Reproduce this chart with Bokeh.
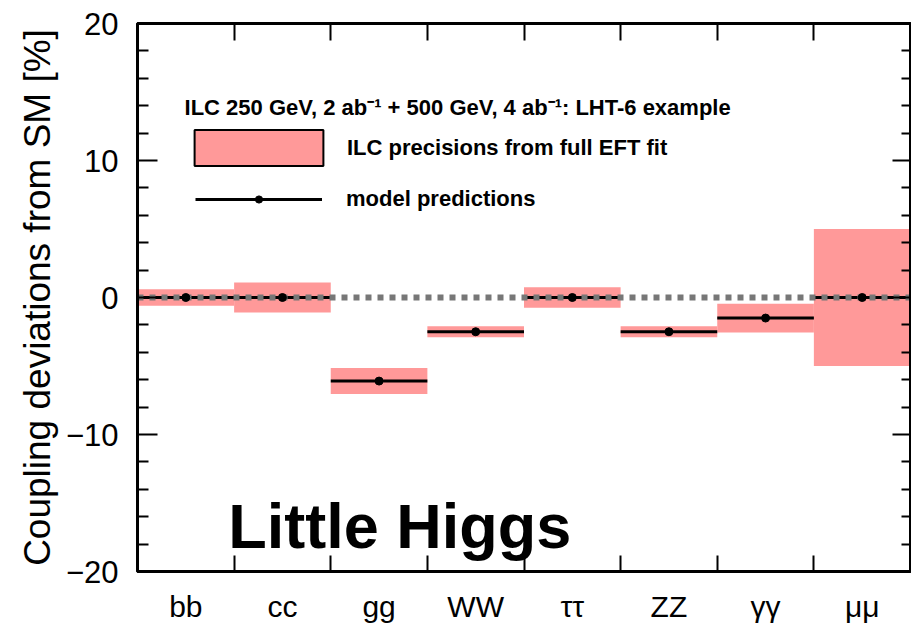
from bokeh.plotting import figure
from bokeh.models import (ColumnDataSource, FixedTicker, LinearAxis, Range1d, Grid,
                          Label, Legend, LegendItem, CustomLabelingPolicy)
from bokeh.embed import file_html
from bokeh.resources import INLINE

# ---- data ----
categories = ["bb", "cc", "gg", "WW", "ττ", "ZZ", "γγ", "μμ"]
predictions = [0.0, 0.0, -6.1, -2.5, 0.0, -2.5, -1.5, 0.0]
precisions = [0.6, 1.1, 0.95, 0.4, 0.75, 0.4, 1.05, 5.0]
y_ticks = [-20, -10, 0, 10, 20]
y_tick_labels = ["\u221220", "\u221210", "0", "10", "20"]
y_minor_ticks = [-18, -16, -14, -12, -8, -6, -4, -2, 2, 4, 6, 8, 12, 14, 16, 18]
sm_reference = [0.0]
title_text = "ILC 250 GeV, 2 ab\u207b\u00b9 + 500 GeV, 4 ab\u207b\u00b9: LHT-6 example"
band_label = "ILC precisions from full EFT fit"
line_label = "model predictions"
model_name = "Little Higgs"

FONT = "Liberation Sans"
PINK = "#FF9999"

n = len(categories)
left = [i for i in range(n)]
right = [i + 1 for i in range(n)]
center = [i + 0.5 for i in range(n)]
bottom = [v - e for v, e in zip(predictions, precisions)]
top = [v + e for v, e in zip(predictions, precisions)]
src = ColumnDataSource(dict(left=left, right=right, center=center,
                            bottom=bottom, top=top, pred=predictions))

p = figure(width=911, height=625, x_range=Range1d(0, n), y_range=Range1d(-20, 20),
           output_backend="svg", toolbar_location=None,
           x_axis_location=None, y_axis_location=None,
           min_border_left=137, min_border_right=1, min_border_top=23,
           min_border_bottom=52)
p.center = [c for c in p.center if not isinstance(c, Grid)]
p.outline_line_color = "black"
p.outline_line_width = 3
p.background_fill_color = "white"
p.border_fill_color = "white"
# a range that lies outside the frame, used only by the legend proxy glyph
p.extra_x_ranges = {"legend_only": Range1d(100, 100 + n)}

no_labels = CustomLabelingPolicy(
    code="for (let i = 0; i < indices.size; i++) { indices.unset(i) } return indices")

# ---- axes ----
yticker = FixedTicker(ticks=y_ticks, minor_ticks=y_minor_ticks)
yl = LinearAxis(ticker=yticker,
                axis_label="Coupling deviations from SM [%]",
                major_label_overrides={t: l for t, l in zip(y_ticks, y_tick_labels)},
                axis_line_width=3, major_tick_in=20, major_tick_out=0,
                minor_tick_in=11, minor_tick_out=0,
                major_tick_line_width=2, minor_tick_line_width=2,
                major_label_standoff=19, axis_label_standoff=5,
                major_label_text_font=FONT, major_label_text_font_size="31px",
                major_label_text_color="black",
                axis_label_text_font=FONT, axis_label_text_font_size="37px",
                axis_label_text_font_style="normal", axis_label_text_color="black")
p.add_layout(yl, "left")
yr = LinearAxis(ticker=yticker, axis_line_width=3, major_tick_in=18, major_tick_out=0,
                minor_tick_in=9, minor_tick_out=0,
                major_tick_line_width=2, minor_tick_line_width=2,
                major_label_policy=no_labels, major_label_standoff=0,
                major_label_text_font_size="0px")
p.add_layout(yr, "right")

xticker = FixedTicker(ticks=center, minor_ticks=right[:-1])
xb = LinearAxis(ticker=xticker,
                major_label_overrides={c: name for c, name in zip(center, categories)},
                axis_line_width=3, major_tick_in=0, major_tick_out=0,
                minor_tick_in=16, minor_tick_out=0, minor_tick_line_width=2,
                major_label_standoff=18, major_label_text_color="black",
                major_label_text_font=FONT, major_label_text_font_size="30px")
p.add_layout(xb, "below")
xt = LinearAxis(ticker=FixedTicker(ticks=[], minor_ticks=right[:-1]),
                axis_line_width=3, major_tick_in=0, major_tick_out=0,
                minor_tick_in=17, minor_tick_out=0, minor_tick_line_width=2,
                major_label_standoff=0)
p.add_layout(xt, "above")

# ---- glyphs ----
p.quad(left="left", right="right", bottom="bottom", top="top", source=src,
       fill_color=PINK, line_color=None)
lines = p.segment(x0="left", y0="pred", x1="right", y1="pred", source=src,
                  line_color="black", line_width=3)
p.hspan(y=sm_reference, line_color="#777777", line_width=6, line_dash="6 6")
dots = p.scatter(x="center", y="pred", source=src, size=8, color="black")

# legend proxy for the band (outlined, as in the reference legend); lies off-frame
leg_band = p.quad(left="left", right="right", bottom="bottom", top="top", source=src,
                  x_range_name="legend_only",
                  fill_color=PINK, line_color="black", line_width=2)

common = dict(padding=0, margin=0, border_line_color=None, background_fill_alpha=0,
              label_text_font=FONT, label_text_font_size="22px",
              label_text_font_style="bold", label_text_color="black")
leg1 = Legend(items=[LegendItem(label=band_label, renderers=[leg_band])],
              location=(41, 401), glyph_width=161, glyph_height=45,
              label_standoff=8, **common)
leg2 = Legend(items=[LegendItem(label=line_label, renderers=[lines, dots])],
              location=(58, 359), glyph_width=127, glyph_height=18,
              label_standoff=24, **common)
p.add_layout(leg1)
p.add_layout(leg2)

p.add_layout(Label(x=0.487, y=13.85, text=title_text, text_font=FONT,
                   text_font_size="22px", text_font_style="bold", text_color="black",
                   text_baseline="alphabetic"))
p.add_layout(Label(x=0.94, y=-16.7, text=model_name, text_font=FONT,
                   text_font_size="63px", text_font_style="bold", text_color="black",
                   text_baseline="alphabetic"))

open("out.html", "w").write(file_html(p, INLINE))
